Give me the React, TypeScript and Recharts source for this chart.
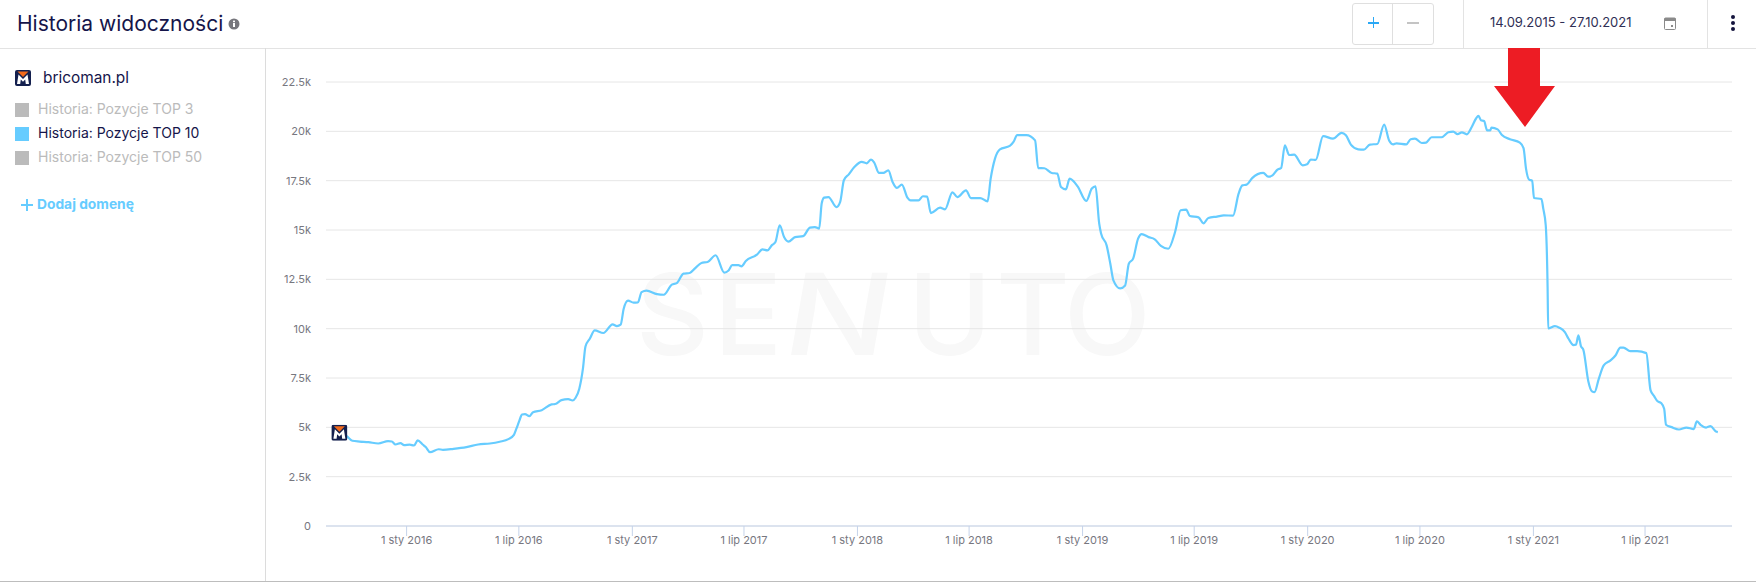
import React from 'react'
import { LineChart, Line, XAxis, YAxis, CartesianGrid } from 'recharts'

// days counted from 14.09.2015, the start of the range
const days = [
  0, 12, 21, 33, 47, 63, 79, 85, 91, 99, 105, 114, 121, 127, 135, 140, 147, 161, 168, 185, 206, 225, 244, 260, 274, 283, 287, 292, 296, 301,
  308, 314, 328, 344, 350, 360, 371, 378, 383, 389, 395, 399, 406, 414, 428, 443, 450, 456, 461, 468, 477, 484, 490, 498, 515, 526, 539, 547, 558, 568,
  577, 587, 597, 610, 624, 631, 637, 647, 652, 659, 677, 686, 694, 701, 707, 714, 721, 728, 739, 752, 763, 771, 778, 782, 786, 793, 806, 812, 818, 826,
  835, 847, 855, 862, 867, 875, 882, 890, 897, 904, 912, 921, 926, 939, 946, 953, 959, 974, 982, 994, 1002, 1016, 1024, 1039, 1051, 1056, 1063, 1071, 1087, 1093,
  1099, 1114, 1128, 1133, 1143, 1155, 1164, 1170, 1178, 1184, 1197, 1211, 1220, 1226, 1232, 1235, 1244, 1250, 1255, 1266, 1274, 1280, 1287, 1295, 1301, 1312, 1322, 1332, 1344, 1355,
  1364, 1373, 1379, 1393, 1401, 1409, 1423, 1434, 1449, 1458, 1464, 1471, 1480, 1498, 1506, 1513, 1521, 1527, 1533, 1540, 1548, 1562, 1569, 1575, 1583, 1595, 1611, 1625, 1632, 1640,
  1652, 1661, 1671, 1683, 1694, 1702, 1709, 1714, 1730, 1737, 1744, 1755, 1762, 1771, 1787, 1798, 1806, 1813, 1820, 1828, 1836, 1843, 1847, 1851, 1856, 1861, 1866, 1868, 1878, 1885,
  1898, 1914, 1920, 1924, 1929, 1934, 1937, 1949, 1952, 1956, 1959, 1960, 1971, 1978, 1987, 1993, 2001, 2005, 2009, 2013, 2017, 2025, 2031, 2035, 2042, 2050, 2061, 2069, 2077, 2082,
  2093, 2104, 2119, 2126, 2132, 2137, 2143, 2148, 2151, 2160, 2172, 2184, 2196, 2201, 2207, 2216, 2223, 2232, 2235,
]
const top10 = [
  4730, 4550, 4320, 4280, 4250, 4180, 4300, 4280, 4130, 4200, 4100, 4120, 4080, 4340, 4130, 4000, 3740, 3890, 3860, 3910, 4000, 4130, 4180, 4270, 4400, 4620, 4930, 5350, 5650, 5670,
  5570, 5770, 5870, 6160, 6180, 6380, 6430, 6360, 6500, 6960, 8000, 9100, 9490, 9910, 9780, 10220, 10130, 10200, 11010, 11420, 11320, 11330, 11850, 11930, 11750, 11720, 12230, 12310, 12790, 12820,
  13070, 13330, 13380, 13720, 12840, 12950, 13220, 13220, 13160, 13430, 13750, 14020, 13970, 14220, 14390, 15240, 14640, 14410, 14640, 14690, 15120, 15150, 15070, 16340, 16640, 16670, 16160, 16420, 17520, 17820,
  18190, 18450, 18380, 18570, 18430, 17890, 17890, 18020, 17430, 17130, 17300, 16640, 16500, 16500, 16710, 16690, 15860, 16130, 16050, 16910, 16670, 17010, 16620, 16620, 16450, 17600, 18620, 19090, 19260, 19460,
  19810, 19810, 19540, 18140, 18130, 17890, 17860, 17180, 17060, 17600, 17210, 16470, 17100, 17210, 15320, 14820, 14220, 13290, 12450, 12040, 12190, 13290, 13550, 14560, 14790, 14640, 14530, 14190, 14050, 14900,
  16000, 16030, 15710, 15640, 15340, 15610, 15680, 15740, 15730, 16840, 17260, 17300, 17630, 17890, 17700, 17770, 18060, 18140, 19290, 18800, 18820, 18280, 18330, 18570, 18550, 19760, 19630, 19920, 19800, 19330,
  19090, 19070, 19330, 19360, 20340, 19540, 19340, 19390, 19340, 19600, 19630, 19410, 19430, 19700, 19700, 19950, 19990, 19860, 19950, 19850, 20220, 20650, 20780, 20560, 20520, 20050, 20050, 20190, 20100, 19810,
  19600, 19430, 19150, 18110, 17550, 17500, 16620, 16570, 16080, 15240, 12110, 10010, 10130, 10050, 9830, 9490, 9170, 9190, 9660, 9120, 8930, 7340, 6820, 6780, 7460, 8140, 8390, 8640, 9040, 9040,
  8860, 8860, 8760, 6870, 6570, 6330, 6230, 5940, 5130, 5010, 4890, 4990, 4910, 5300, 5130, 4990, 5060, 4790, 4760,
]
const tickDays = [109, 291, 475, 656, 840, 1021, 1205, 1386, 1570, 1752, 1936, 2117]
const tickLabels = ['1 sty 2016', '1 lip 2016', '1 sty 2017', '1 lip 2017', '1 sty 2018', '1 lip 2018', '1 sty 2019', '1 lip 2019', '1 sty 2020', '1 lip 2020', '1 sty 2021', '1 lip 2021']
const yTicks = [0, 2500, 5000, 7500, 10000, 12500, 15000, 17500, 20000, 22500]
const yLabels = ['0', '2.5k', '5k', '7.5k', '10k', '12.5k', '15k', '17.5k', '20k', '22.5k']
const legendNames = ['Historia: Pozycje TOP 3', 'Historia: Pozycje TOP 10', 'Historia: Pozycje TOP 50']

const rows = days.map((day, i) => ({ day, top10: top10[i] }))

const FONT = 'Inter, "Open Sans", sans-serif'
const NAVY = '#15154a'
const BLUE = '#66ccff'

function Logo({ x, y, size = 16 }: { x: number, y: number, size?: number }) {
  return (
    <svg x={x} y={y} width={size} height={size} viewBox="0 0 16 16" style={{ display: 'block' }}>
      <rect width="16" height="16" rx="2" fill="#14204e" />
      <polygon points="2.5,1.5 13.5,1.5 8,7" fill="#f26a1b" />
      <polygon points="2,14 3.5,4.5 8,9 12.5,4.5 14,14 10.8,14 10.2,9.5 8,11.8 5.8,9.5 5.2,14" fill="#fff" />
    </svg>
  )
}

function Label({ x, y, size, color, weight = 400, children }: { x: number, y: number, size: number, color: string, weight?: number, children: React.ReactNode }) {
  return (
    <div style={{ position: 'absolute', left: x, top: y, fontSize: size, color, fontWeight: weight, lineHeight: 1, whiteSpace: 'nowrap', transform: 'translateY(-50%)' }}>
      {children}
    </div>
  )
}

function Box({ x, y, w, h, color }: { x: number, y: number, w: number, h: number, color: string }) {
  return <div style={{ position: 'absolute', left: x, top: y, width: w, height: h, background: color }} />
}

function Header() {
  return (
    <>
      <Label x={17} y={23} size={21} color={NAVY}>Historia widoczności</Label>
      <svg style={{ position: 'absolute', left: 228, top: 18 }} width="12" height="12">
        <circle cx="6" cy="6" r="5.5" fill="#76767c" />
        <rect x="5" y="5" width="2" height="4" fill="#fff" />
        <rect x="5" y="2.6" width="2" height="1.6" fill="#fff" />
      </svg>
      <div style={{ position: 'absolute', left: 1352, top: 3, width: 80, height: 40, border: '1px solid #dfdfdf', borderRadius: 3 }} />
      <Box x={1392} y={3} w={1} h={41} color="#dfdfdf" />
      <Box x={1368} y={22} w={11} h={1.5} color="#2aa8f5" />
      <Box x={1372.7} y={17} w={1.5} h={11} color="#2aa8f5" />
      <Box x={1407} y={22} w={12} h={1.5} color="#c4c4c4" />
      <Box x={1463} y={0} w={1} h={48} color="#e3e3e3" />
      <Label x={1490} y={22} size={13} color="#2f2f55">14.09.2015 - 27.10.2021</Label>
      <svg style={{ position: 'absolute', left: 1664, top: 17 }} width="12" height="13">
        <rect x="0.5" y="1" width="11" height="11.5" rx="1" fill="none" stroke="#8a8a8a" />
        <rect x="0.5" y="1" width="11" height="3" fill="#8a8a8a" />
        <rect x="7" y="8" width="2" height="2" fill="#8a8a8a" />
      </svg>
      <Box x={1707} y={0} w={1} h={48} color="#e3e3e3" />
      <svg style={{ position: 'absolute', left: 1730, top: 14 }} width="6" height="18">
        <circle cx="3" cy="3" r="2" fill="#14143d" />
        <circle cx="3" cy="9" r="2" fill="#14143d" />
        <circle cx="3" cy="15" r="2" fill="#14143d" />
      </svg>
      <Box x={0} y={48} w={1756} h={1} color="#e3e3e3" />
    </>
  )
}

function Sidebar() {
  return (
    <>
      <svg style={{ position: 'absolute', left: 15, top: 70 }} width="16" height="16"><Logo x={0} y={0} /></svg>
      <Label x={43} y={78} size={15.4} color={NAVY}>bricoman.pl</Label>
      {legendNames.map((name, i) => {
        const active = i === 1
        return (
          <React.Fragment key={name}>
            <Box x={15} y={103 + i * 24} w={14} h={14} color={active ? BLUE : '#bbbbbb'} />
            <Label x={38} y={109 + i * 24} size={14} color={active ? NAVY : '#bbbbbb'}>{name}</Label>
          </React.Fragment>
        )
      })}
      <Box x={21} y={204} w={12} h={2} color={BLUE} />
      <Box x={26} y={199} w={2} h={12} color={BLUE} />
      <Label x={37} y={205} size={13.8} color={BLUE} weight={700}>Dodaj domenę</Label>
      <Box x={265} y={48} w={1} h={533} color="#dcdcdc" />
      <Box x={0} y={581} w={1756} h={1} color="#bdbdbd" />
    </>
  )
}

function Watermark() {
  const base = { fontFamily: FONT, fontSize: 113, fontWeight: 500, fill: '#f8f8f8' }
  return (
    <svg style={{ position: 'absolute', left: 0, top: 0 }} width="1756" height="584">
      <text x="636 714" y="355" {...base}>SE</text>
      <text x="0" y="0" {...base} transform="translate(780,355) skewX(-10) scale(1.22,1)">N</text>
      <text x="908 996 1064" y="355" {...base}>UTO</text>
    </svg>
  )
}

function Arrow() {
  return (
    <svg style={{ position: 'absolute', left: 0, top: 0 }} width="1756" height="584">
      <polygon points="1508,48 1540,48 1540,86 1555,86 1525,127 1494,86 1508,86" fill="#ed1c24" />
    </svg>
  )
}

export default function App() {
  const renderDot = (p: any) => (p.index === 0
    ? <Logo key="logo" x={p.cx - 8} y={p.cy - 8} />
    : <g key={p.index} />)
  return (
    <div style={{ position: 'absolute', left: 0, top: 0, width: 1756, height: 584, background: '#fff', overflow: 'hidden', fontFamily: FONT }}>
      <Watermark />
      <Header />
      <Sidebar />
      <div style={{ position: 'absolute', left: 0, top: 0 }}>
        <LineChart width={1756} height={584} data={rows} margin={{ top: 82, right: 24, bottom: 28, left: 266 }}>
          <CartesianGrid horizontal vertical={false} stroke="#e6e6e6" />
          <XAxis
            dataKey="day"
            type="number"
            domain={[-21.7, 2258]}
            ticks={tickDays}
            tickFormatter={(v) => tickLabels[tickDays.indexOf(v)]}
            interval={0}
            height={30}
            stroke="#c5d3ea"
            tickSize={10}
            tickMargin={0}
            tick={{ fill: '#77777f', fontSize: 11, fontFamily: FONT }}
          />
          <YAxis
            type="number"
            domain={[0, 22500]}
            ticks={yTicks}
            tickFormatter={(v) => yLabels[yTicks.indexOf(v)]}
            interval={0}
            width={60}
            axisLine={false}
            tickLine={false}
            tickSize={0}
            tickMargin={15}
            tick={{ fill: '#77777f', fontSize: 11, fontFamily: FONT }}
          />
          <Line dataKey="top10" type="monotone" stroke={BLUE} strokeWidth={2.2} dot={renderDot} activeDot={false} isAnimationActive={false} />
        </LineChart>
      </div>
      <Arrow />
    </div>
  )
}
